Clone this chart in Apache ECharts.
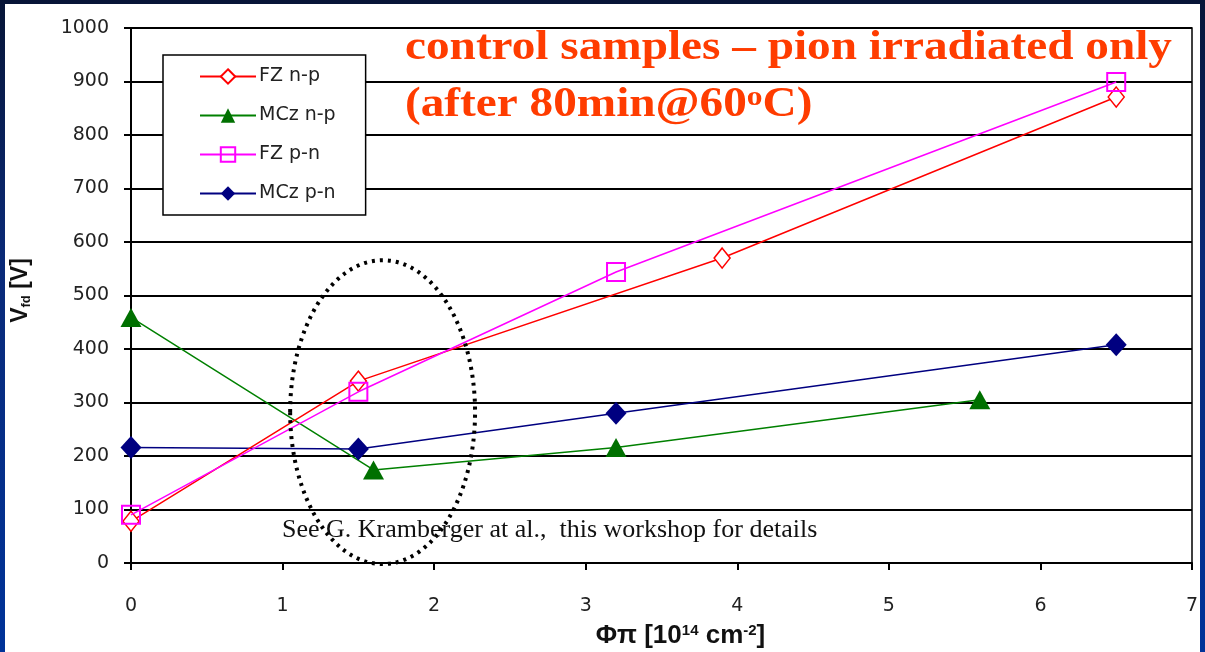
<!DOCTYPE html>
<html>
<head>
<meta charset="utf-8">
<script src="https://cdn.jsdelivr.net/npm/echarts@6/dist/echarts.min.js"></script>
<style>
  html, body { margin: 0; padding: 0; width: 1205px; height: 652px; overflow: hidden; }
  body { background: linear-gradient(to bottom, #071537 0%, #0a2a78 40%, #003399 100%); position: relative; }
  #panel { position: absolute; left: 5px; top: 4px; right: 5px; bottom: 0; background: #fff; }
  #main { position: absolute; left: 0; top: 0; width: 1205px; height: 652px; }
</style>
</head>
<body>
<div id="panel"></div>
<div id="main"></div>
<script>
// fluence [1e14 cm-2] and full depletion voltage [V]
const fzNpX = [0, 1.5, 3.9, 6.5];
const fzNpY = [78, 340, 570, 871];
const mczNpX = [0, 1.6, 3.2, 5.6];
const mczNpY = [459, 174, 216, 305];
const fzPnX = [0, 1.5, 3.2, 6.5];
const fzPnY = [90, 320, 544, 899];
const mczPnX = [0, 1.5, 3.2, 6.5];
const mczPnY = [216, 213, 280, 408];

const seriesNames = ["FZ n-p", "MCz n-p", "FZ p-n", "MCz p-n"];
const xTicks = [0, 1, 2, 3, 4, 5, 6, 7];

const pairs = (xs, ys) => xs.map((x, i) => [x, ys[i]]);

// title font is wider than any installed serif: stretch it to the original width
const titleLine1 = "control samples – pion irradiated only";
const serif = "'Liberation Serif', serif";
const titleSize = 42;
const ctx = document.createElement("canvas").getContext("2d");
ctx.font = "bold " + titleSize + "px " + serif;
let stretch = 767 / ctx.measureText(titleLine1).width;
if (!(stretch > 0.8 && stretch < 1.4)) stretch = 1.1;
const titleColor = "#ff3c00";

const chart = echarts.init(document.getElementById("main"), null, { renderer: "canvas" });

const sans = "'DejaVu Sans', Arial, sans-serif";
const axisText = { color: "#222", fontFamily: sans, fontSize: 19 };

chart.setOption({
  backgroundColor: "transparent",
  animation: false,
  legend: {
    orient: "vertical",
    left: 163,
    top: 55,
    padding: [12, 30, 12, 36],
    itemGap: 20,
    itemWidth: 56,
    itemHeight: 18,
    backgroundColor: "#fff",
    borderColor: "#000",
    borderWidth: 1.5,
    data: seriesNames,
    textStyle: { color: "#222", fontFamily: sans, fontSize: 19, padding: [0, 0, 0, -2] }
  },
  grid: {
    left: 131,
    right: 13,
    top: 28,
    bottom: 89,
    outerBoundsMode: "none",
    containLabel: false,
    show: true,
    borderColor: "#000",
    borderWidth: 1.5,
    backgroundColor: "#fff"
  },
  xAxis: {
    type: "value",
    min: 0,
    max: 7,
    interval: 1,
    name: "{b|Φπ [10}{s|14}{b| cm}{s|-2}{b|]}",
    nameLocation: "middle",
    nameGap: 60,
    nameTextStyle: {
      padding: [0, 0, 0, 38],
      rich: {
        b: { fontFamily: "Arial, 'Liberation Sans'", fontWeight: "bold", fontSize: 26, color: "#111" },
        s: { fontFamily: "Arial, 'Liberation Sans'", fontWeight: "bold", fontSize: 15, color: "#111", verticalAlign: "top", padding: [0, 0, 11, 0] }
      }
    },
    axisLine: { show: true, lineStyle: { color: "#000", width: 2 } },
    axisTick: { show: true, length: 7, lineStyle: { color: "#000", width: 2 } },
    axisLabel: Object.assign({ margin: 34, customValues: xTicks }, axisText),
    splitLine: { show: false }
  },
  yAxis: {
    type: "value",
    min: 0,
    max: 1000,
    interval: 100,
    name: "{b|V}{s|fd}{b| [V]}",
    nameLocation: "middle",
    nameGap: 98,
    nameRotate: 90,
    nameTextStyle: {
      padding: [0, 0, 0, 10],
      rich: {
        b: { fontFamily: "Arial, 'Liberation Sans'", fontWeight: "bold", fontSize: 23, color: "#111" },
        s: { fontFamily: "Arial, 'Liberation Sans'", fontWeight: "bold", fontSize: 13, color: "#111", verticalAlign: "bottom", padding: [12, 0, 0, 0] }
      }
    },
    axisLine: { show: true, lineStyle: { color: "#000", width: 2 } },
    axisTick: { show: true, length: 7, lineStyle: { color: "#000", width: 2 } },
    axisLabel: Object.assign({ margin: 22, formatter: v => String(v) }, axisText),
    splitLine: { show: true, lineStyle: { color: "#000", width: 2 } }
  },
  series: [
    {
      name: seriesNames[0],
      type: "line",
      data: pairs(fzNpX, fzNpY),
      color: "#ff0000",
      lineStyle: { width: 1.5, color: "#ff0000" },
      symbol: "diamond",
      symbolSize: [16, 20],
      itemStyle: { color: "#fff", borderColor: "#ff0000", borderWidth: 1.5 },
      z: 4
    },
    {
      name: seriesNames[1],
      type: "line",
      data: pairs(mczNpX, mczNpY),
      color: "#008000",
      lineStyle: { width: 1.5, color: "#008000" },
      symbol: "triangle",
      symbolSize: [21, 19],
      itemStyle: { color: "#007000", borderColor: "#007000", borderWidth: 0 },
      z: 3
    },
    {
      name: seriesNames[2],
      type: "line",
      data: pairs(fzPnX, fzPnY),
      color: "#ff00ff",
      lineStyle: { width: 1.5, color: "#ff00ff" },
      symbol: "rect",
      symbolSize: [18, 18],
      itemStyle: { color: "rgba(255,255,255,0)", borderColor: "#ff00ff", borderWidth: 2 },
      z: 5
    },
    {
      name: seriesNames[3],
      type: "line",
      data: pairs(mczPnX, mczPnY),
      color: "#000080",
      lineStyle: { width: 1.5, color: "#000080" },
      symbol: "diamond",
      symbolSize: [21, 23],
      itemStyle: { color: "#000080", borderColor: "#000080", borderWidth: 0 },
      z: 3
    }
  ]
});

// dotted ellipse around the 1.5-1.6 points, placed in data coordinates
const c = chart.convertToPixel({ gridIndex: 0 }, [1.66, 282]);
const e = chart.convertToPixel({ gridIndex: 0 }, [1.66 + 0.61, 282 - 284]);
const titleFont = "bold " + titleSize + "px " + serif;
chart.setOption({
  graphic: [
    {
      type: "ellipse",
      shape: { cx: c[0], cy: c[1], rx: e[0] - c[0], ry: e[1] - c[1] },
      style: { fill: null, stroke: "#000", lineWidth: 4, lineDash: [3, 5] },
      z: 10
    },
    {
      type: "text",
      left: 282,
      top: 517,
      style: {
        text: "See G. Kramberger at al.,  this workshop for details",
        fill: "#111",
        font: "26px 'Liberation Serif', serif"
      },
      z: 11
    },
    {
      type: "text",
      x: 405,
      y: 48,
      scaleX: stretch,
      style: {
        text: titleLine1,
        fill: titleColor,
        font: titleFont,
        verticalAlign: "middle"
      },
      z: 12
    },
    {
      type: "text",
      x: 405,
      y: 105,
      scaleX: stretch,
      style: {
        text: "{n|(after 80min@60}{s|o}{n|C)}",
        verticalAlign: "middle",
        rich: {
          n: { fill: titleColor, font: titleFont },
          s: { fill: titleColor, font: "bold 28px " + serif, verticalAlign: "top", padding: [0, 0, 14, 0] }
        }
      },
      z: 12
    }
  ]
});
</script>
</body>
</html>
